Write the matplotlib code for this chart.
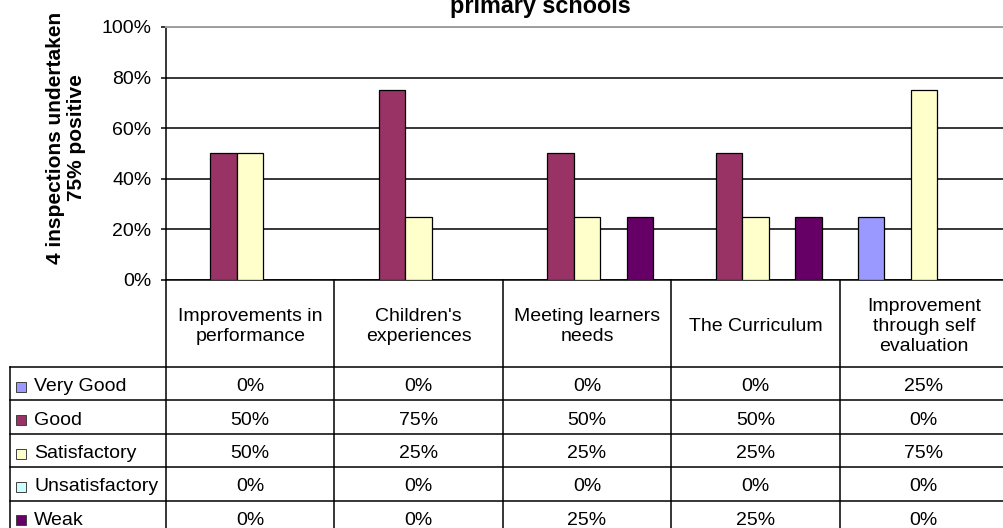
import numpy as np
from matplotlib import pyplot as plt
from matplotlib.patches import Rectangle

plt.rcParams["font.family"] = ["Liberation Sans", "DejaVu Sans"]

categories = [
    "Improvements in\nperformance",
    "Children's\nexperiences",
    "Meeting learners\nneeds",
    "The Curriculum",
    "Improvement\nthrough self\nevaluation",
]
grades = ["Very Good", "Good", "Satisfactory", "Unsatisfactory", "Weak"]
very_good = [0, 0, 0, 0, 25]
good = [50, 75, 50, 50, 0]
satisfactory = [50, 25, 25, 25, 75]
unsatisfactory = [0, 0, 0, 0, 0]
weak = [0, 0, 25, 25, 0]
series = [very_good, good, satisfactory, unsatisfactory, weak]
colours = ["#9999FF", "#993366", "#FFFFCC", "#CCFFFF", "#660066"]

W, H = 1004, 528
fig = plt.figure(figsize=(W / 100, H / 100), dpi=100)

# plot area in pixels: left edge, right edge (runs just past the canvas), top, bottom
left, right, top, bottom = 166, 1008, 27, 280
cat_px = (right - left) / len(categories)

ax = fig.add_axes([left / W, 1 - bottom / H, (right - left) / W, (bottom - top) / H])
x = np.arange(len(categories))
bar_w = 26.5 / cat_px
for i, (vals, col) in enumerate(zip(series, colours)):
    ax.bar(x + (i - 2) * bar_w, vals, bar_w, color=col, edgecolor="black",
           linewidth=0.9, zorder=3)

ax.set_xlim(-0.5, len(categories) - 0.5)
ax.set_ylim(0, 100)
ax.set_yticks(range(0, 101, 20))
ax.set_yticklabels([f"{v}%" for v in range(0, 101, 20)])
ax.set_xticks([])
ax.tick_params(axis="y", direction="out", length=3.6, width=1.1, pad=7, labelsize=14)
ax.yaxis.grid(True, color="black", linewidth=1.1)
ax.set_axisbelow(True)
ax.spines["top"].set_color("#a0a0a0")
ax.spines["top"].set_linewidth(1.4)
ax.spines["right"].set_visible(False)
for s in ("left", "bottom"):
    ax.spines[s].set_linewidth(1.1)

ax.set_ylabel("4 inspections undertaken\n75% positive", fontsize=15,
              fontweight="bold", linespacing=1.1)
ax.yaxis.set_label_coords((86 - left) / (right - left), (bottom - 138) / (bottom - top))

fig.text(540 / W, 1 - 13 / H, "primary schools", ha="center", va="baseline",
         fontsize=16.8, fontweight="bold")

# data table under the chart, sharing the category columns
row_px, header_px = 33.4, 87
tab = fig.add_axes([left / W, 0, (right - left) / W, (H - bottom) / H])
tab.set_xlim(-0.5, len(categories) - 0.5)
tab.set_ylim((H - bottom) / row_px, 0)
tab.axis("off")
hdr = header_px / row_px
px_x = 1 / cat_px
px_y = 1 / row_px
x_left = -0.5 - (left - 10) * px_x
n_rows = len(grades)
nudge = 3 * px_y  # text sits a little below the cell middle
line_kw = dict(color="black", linewidth=1.1, clip_on=False)

for k in range(len(categories) + 1):
    tab.plot([k - 0.5, k - 0.5], [0, hdr + n_rows], **line_kw)
tab.plot([x_left, x_left], [hdr, hdr + n_rows], **line_kw)
for r in range(n_rows + 1):
    tab.plot([x_left, len(categories) - 0.5], [hdr + r, hdr + r], **line_kw)

for i, cat in enumerate(categories):
    tab.text(i, hdr / 2 + nudge, cat, ha="center", va="center", fontsize=14,
             linespacing=1.2)

for r, (grade, vals, col) in enumerate(zip(grades, series, colours)):
    yc = hdr + r + 0.5 + nudge
    tab.add_patch(Rectangle((x_left + 6 * px_x, yc - 5 * px_y), 10 * px_x, 10 * px_y,
                            facecolor=col, edgecolor="#404040", linewidth=0.7,
                            clip_on=False))
    tab.text(x_left + 24 * px_x, yc, grade, ha="left", va="center", fontsize=14,
             clip_on=False)
    for i, v in enumerate(vals):
        tab.text(i, yc, f"{v}%", ha="center", va="center", fontsize=14)

fig.savefig("out.png", dpi=100)
